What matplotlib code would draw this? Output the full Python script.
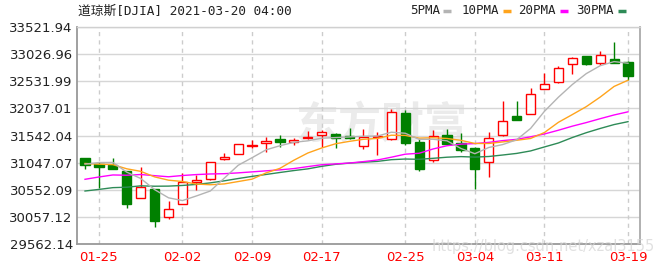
import matplotlib
matplotlib.use('Agg')
import matplotlib.pyplot as plt
from matplotlib.lines import Line2D
from matplotlib.patches import Rectangle

dates = ['01-22', '01-25', '01-26', '01-27', '01-28', '01-29', '02-01', '02-02', '02-03', '02-04',
         '02-05', '02-08', '02-09', '02-10', '02-11', '02-12', '02-16', '02-17', '02-18', '02-19',
         '02-22', '02-23', '02-24', '02-25', '02-26', '03-01', '03-02', '03-03', '03-04', '03-05',
         '03-08', '03-09', '03-10', '03-11', '03-12', '03-15', '03-16', '03-17', '03-18', '03-19']
opens = [31138, 31020, 31010, 30890, 30410, 30560, 30060, 30295, 30700, 30750,
         31110, 31205, 31360, 31410, 31478, 31420, 31495, 31545, 31575, 31540,
         31360, 31515, 31473, 31960, 31418, 31096, 31551, 31400, 31309, 31054,
         31556, 31897, 31933, 32388, 32510, 32843, 32983, 32862, 32940, 32880]
highs = [31138, 31060, 31130, 30900, 30960, 30570, 30350, 30860, 30815, 31060,
         31230, 31390, 31460, 31510, 31550, 31502, 31624, 31642, 31590, 31670,
         31665, 31600, 32020, 32010, 31473, 31642, 31655, 31582, 31338, 31611,
         32170, 32170, 32401, 32680, 32800, 32975, 32990, 33085, 33244, 32890]
lows = [30940, 30580, 30930, 30225, 30400, 29870, 30030, 30290, 30555, 30740,
        31105, 31200, 31310, 31250, 31340, 31370, 31473, 31340, 31310, 31480,
        31290, 31187, 31460, 31370, 30900, 31065, 31380, 31250, 30563, 30792,
        31540, 31820, 31925, 32380, 32500, 32667, 32820, 32831, 32880, 32558]
closes = [30997, 30960, 30937, 30303, 30603, 29983, 30212, 30687, 30724, 31056,
          31148, 31386, 31376, 31438, 31431, 31458, 31523, 31613, 31493, 31494,
          31522, 31537, 31962, 31402, 30932, 31536, 31392, 31270, 30924, 31496,
          31802, 31833, 32297, 32486, 32779, 32953, 32840, 33015, 32862, 32628]
ma5 = [31021, 31050, 31052, 30875, 30760, 30557, 30408, 30358, 30442, 30532,
       30765, 31000, 31138, 31281, 31356, 31418, 31445, 31493, 31504, 31516,
       31529, 31532, 31602, 31583, 31471, 31474, 31445, 31306, 31211, 31324,
       31377, 31465, 31670, 31983, 32239, 32470, 32668, 32812, 32887, 32857]
ma10 = [31033, 31020, 31012, 30936, 30890, 30789, 30729, 30705, 30658, 30646,
        30661, 30704, 30748, 30861, 30944, 31092, 31223, 31315, 31392, 31436,
        31473, 31489, 31547, 31544, 31494, 31501, 31488, 31454, 31397, 31397,
        31425, 31455, 31488, 31597, 31782, 31923, 32067, 32241, 32435, 32548]
ma20 = [30745, 30787, 30824, 30819, 30832, 30811, 30791, 30814, 30831, 30842,
        30847, 30862, 30880, 30899, 30917, 30940, 30976, 31010, 31025, 31041,
        31067, 31096, 31147, 31202, 31219, 31297, 31356, 31385, 31395, 31417,
        31449, 31472, 31518, 31570, 31638, 31712, 31777, 31848, 31916, 31973]
ma30 = [30532, 30561, 30593, 30601, 30626, 30619, 30621, 30633, 30652, 30680,
        30717, 30759, 30798, 30833, 30869, 30904, 30935, 30981, 31018, 31040,
        31056, 31071, 31102, 31114, 31109, 31127, 31147, 31158, 31149, 31160,
        31187, 31216, 31261, 31334, 31406, 31505, 31593, 31670, 31741, 31794]
y_ticks = [29562.14, 30057.12, 30552.09, 31047.07, 31542.04, 32037.01, 32531.99, 33026.96, 33521.94]
x_tick_labels = ['01-25', '02-02', '02-09', '02-17', '02-25', '03-04', '03-11', '03-19']
ma_names = ['5PMA', '10PMA', '20PMA', '30PMA']
title = '道琼斯[DJIA] 2021-03-20 04:00'

UP = '#ff0000'
DOWN = '#008000'
MA_COLORS = ['#b4b4b4', '#ffa41c', '#ff00ff', '#2e8b57']

W, H = 661, 266
fig = plt.figure(figsize=(W / 100, H / 100), dpi=100)
fig.patch.set_facecolor('white')

# background watermark (drawn beneath the axes)
fig.text(381 / W, 1 - 125 / H, '东方财富', fontsize=31, fontweight='bold', color='#ebebeb',
         ha='center', va='center', family=['Noto Sans CJK SC', 'DejaVu Sans'], zorder=-5)

ax = fig.add_axes([77 / W, 1 - 244.3 / H, (640 - 77) / W, (244.3 - 26.7) / H])
ax.set_zorder(1)
ax.patch.set_alpha(0)

xs = list(range(len(dates)))
tick_pos = [dates.index(t) for t in x_tick_labels]

for yv in y_ticks:
    ax.axhline(yv, color='#d6d6d6', lw=1.0, zorder=1)
for xp in tick_pos:
    ax.axvline(xp, color='#cccccc', lw=1.0, ls=(0, (3, 3)), zorder=1)

bw = 0.66
for i in xs:
    o, h, l, c = opens[i], highs[i], lows[i], closes[i]
    up = c >= o
    col = UP if up else DOWN
    lo, hi = min(o, c), max(o, c)
    if h > hi:
        ax.vlines(i, hi, h, color=col, lw=1.0, zorder=3)
    if l < lo:
        ax.vlines(i, l, lo, color=col, lw=1.0, zorder=3)
    ax.add_patch(Rectangle((i - bw / 2, lo), bw, max(hi - lo, 8),
                           facecolor='white' if up else col, edgecolor=col, lw=1.0, zorder=4))

for vals, colr in zip([ma30, ma20, ma10, ma5], MA_COLORS[::-1]):
    ax.plot(xs, vals, color=colr, lw=1.0, zorder=5)

ax.set_xlim(-0.575, 39.86)
ax.set_ylim(y_ticks[0], y_ticks[-1])
ax.set_yticks(y_ticks)
ax.set_yticklabels([f'{v:.2f}' for v in y_ticks])
ax.set_xticks(tick_pos)
ax.set_xticklabels(x_tick_labels)
ax.tick_params(axis='y', length=0, pad=3, labelsize=9.5, labelcolor='#222222')
ax.tick_params(axis='x', length=0, pad=5, labelsize=9.5, labelcolor='#ff0000')
for s in ['left', 'bottom']:
    ax.spines[s].set_color('#999999')
    ax.spines[s].set_linewidth(1.3)
ax.spines['right'].set_color('#aaaaaa')
ax.spines['right'].set_linewidth(1.3)
ax.spines['top'].set_color('#d0d0d0')
ax.spines['top'].set_linewidth(1.0)

# title
fig.text(78 / W, 1 - 11 / H, title, fontsize=9.2, color='#222222', ha='left', va='center',
         family=['DejaVu Sans Mono', 'Noto Sans CJK SC'])

# legend
leg_text_x = [410, 462, 518, 576]
leg_dash_x = [443, 503, 560, 618]
for name, tx, dx, colr in zip(ma_names, leg_text_x, leg_dash_x, MA_COLORS):
    fig.text(tx / W, 1 - 11 / H, name, fontsize=9, color='#222222', ha='left', va='center',
             family=['DejaVu Sans Mono'])
    fig.add_artist(Line2D([dx / W, (dx + 8) / W], [1 - 11 / H, 1 - 11 / H], color=colr, lw=2.5,
                          transform=fig.transFigure, solid_capstyle='butt'))

fig.text(543 / W, 1 - 246 / H, 'https://blog.csdn.net/xzal3155', fontsize=10.5, color='#d4d4d4',
         alpha=0.7, ha='center', va='center', family=['DejaVu Sans'], zorder=10)

fig.savefig('out.png', dpi=100, facecolor='white')
